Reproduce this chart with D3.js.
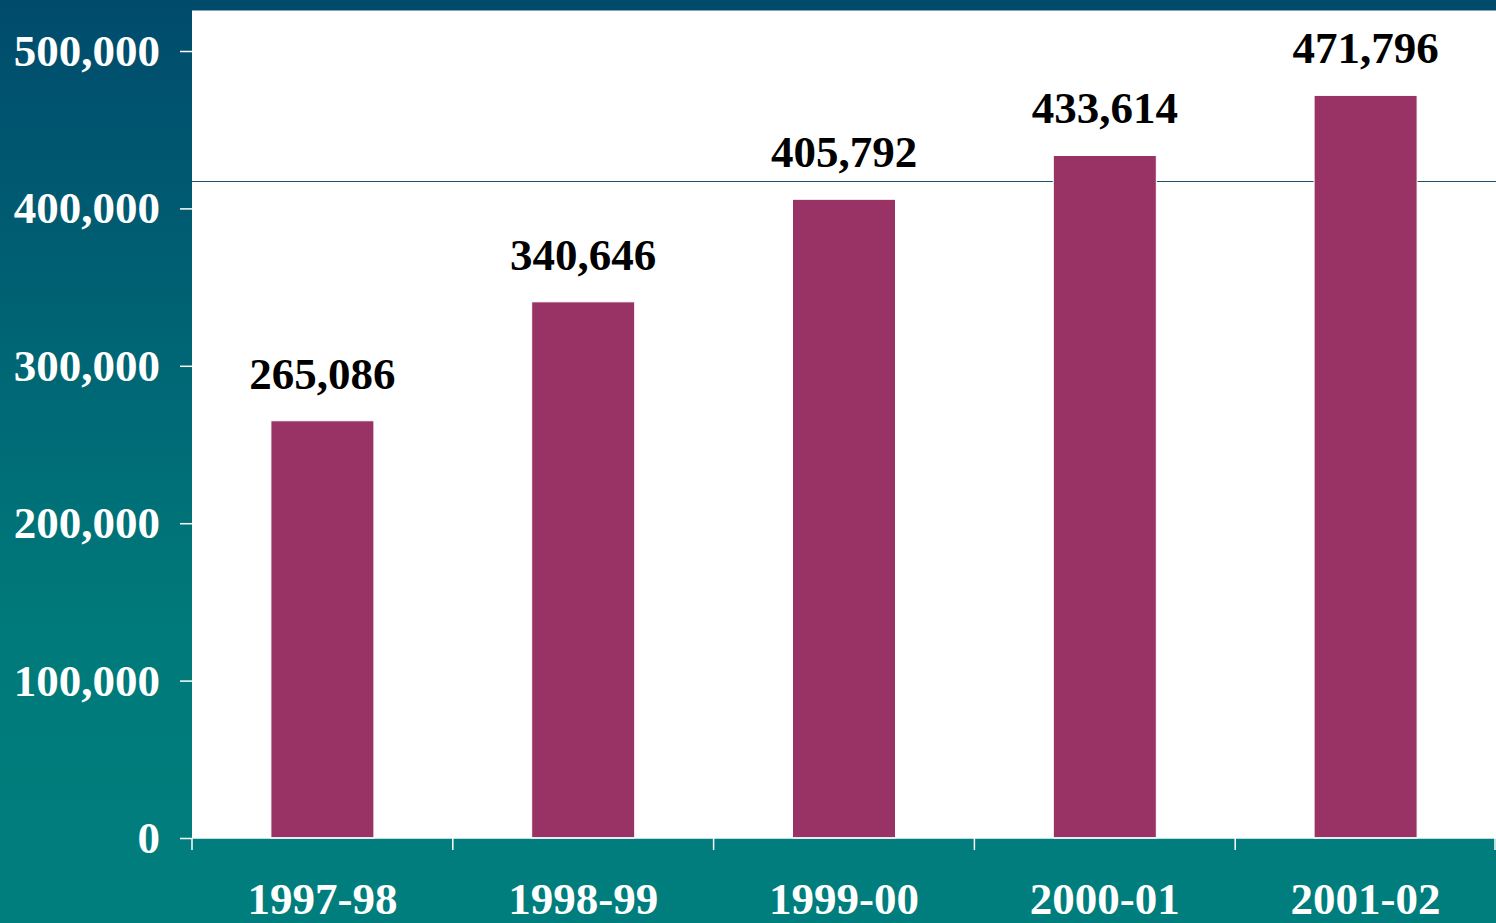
<!DOCTYPE html>
<html>
<head>
<meta charset="utf-8">
<script src="https://cdn.jsdelivr.net/npm/d3@7"></script>
<style>
  html, body { margin: 0; padding: 0; overflow: hidden; }
  svg { display: block; }
</style>
</head>
<body>
<svg id="chart"></svg>
<script>
const years = ["1997-98", "1998-99", "1999-00", "2000-01", "2001-02"];
const counts = [265086, 340646, 405792, 433614, 471796];
const yTicks = [0, 100000, 200000, 300000, 400000, 500000];
const refLine = [417400];

const width = 1496;
const height = 923;
const margin = { top: 10, right: 0, bottom: 85, left: 192 };
const font = "'Liberation Serif', 'Times New Roman', serif";

const svg = d3.select("#chart")
  .attr("width", width)
  .attr("height", height);

// background gradient
const defs = svg.append("defs");
const bg = defs.append("linearGradient")
  .attr("id", "bg")
  .attr("x1", "0%").attr("y1", "0%")
  .attr("x2", "0%").attr("y2", "100%");
bg.append("stop").attr("offset", "0%").attr("stop-color", "#004b6c");
bg.append("stop").attr("offset", "45%").attr("stop-color", "#006a76");
bg.append("stop").attr("offset", "68%").attr("stop-color", "#007a7a");
bg.append("stop").attr("offset", "100%").attr("stop-color", "#007e7d");

svg.append("rect")
  .attr("width", width)
  .attr("height", height)
  .attr("fill", "url(#bg)");

const x = d3.scaleBand()
  .domain(years)
  .range([margin.left, width - margin.right])
  .paddingInner(0.605)
  .paddingOuter(0.3025);

const y = d3.scaleLinear()
  .domain([0, 500000])
  .range([height - margin.bottom, 51]);

// plot area
svg.append("rect")
  .attr("x", margin.left)
  .attr("y", margin.top)
  .attr("width", width - margin.left - margin.right)
  .attr("height", y(0) - margin.top)
  .attr("fill", "#fff");

svg.append("line")
  .attr("x1", margin.left).attr("x2", width)
  .attr("y1", margin.top + 0.5).attr("y2", margin.top + 0.5)
  .attr("stroke", "#7fa7b8")
  .attr("stroke-width", 1);

// reference line
svg.selectAll(".ref")
  .data(refLine)
  .join("line")
  .attr("class", "ref")
  .attr("x1", margin.left).attr("x2", width)
  .attr("y1", d => Math.round(y(d)) + 0.5)
  .attr("y2", d => Math.round(y(d)) + 0.5)
  .attr("stroke", "#1b5266")
  .attr("stroke-width", 1);

// bars
svg.selectAll(".bar")
  .data(counts)
  .join("rect")
  .attr("class", "bar")
  .attr("x", (d, i) => x(years[i]))
  .attr("y", d => y(d))
  .attr("width", x.bandwidth())
  .attr("height", d => y(0) - y(d))
  .attr("fill", "#993366")
  .attr("stroke", "#fff")
  .attr("stroke-width", 1);

// value labels
svg.selectAll(".val")
  .data(counts)
  .join("text")
  .attr("class", "val")
  .attr("x", (d, i) => x(years[i]) + x.bandwidth() / 2)
  .attr("y", d => y(d) - 32)
  .attr("text-anchor", "middle")
  .attr("font-family", font)
  .attr("font-weight", "bold")
  .attr("font-size", "45px")
  .attr("fill", "#000")
  .text(d => d3.format(",")(d));

// y axis
const yAxis = svg.append("g")
  .attr("transform", `translate(${margin.left},0)`)
  .call(d3.axisLeft(y).tickValues(yTicks).tickFormat(d3.format(",")).tickSize(12).tickPadding(20));
yAxis.select(".domain").remove();
yAxis.selectAll("line").attr("stroke", "#fff").attr("stroke-width", 1.5);
yAxis.selectAll("text")
  .attr("fill", "#fff")
  .attr("font-family", font)
  .attr("font-weight", "bold")
  .attr("font-size", "45px");

// x axis
const xEdges = d3.range(years.length + 1).map(i => margin.left + i * x.step() - (i === years.length ? 1 : 0));
const xAxisG = svg.append("g");
xAxisG.append("line")
  .attr("x1", margin.left).attr("x2", width)
  .attr("y1", y(0)).attr("y2", y(0))
  .attr("stroke", "#fff").attr("stroke-width", 1.5);
xAxisG.selectAll(".xt")
  .data(xEdges)
  .join("line")
  .attr("class", "xt")
  .attr("x1", d => d).attr("x2", d => d)
  .attr("y1", y(0)).attr("y2", y(0) + 12)
  .attr("stroke", "#fff").attr("stroke-width", 1.5);
xAxisG.selectAll(".xl")
  .data(years)
  .join("text")
  .attr("class", "xl")
  .attr("x", d => x(d) + x.bandwidth() / 2)
  .attr("y", 914)
  .attr("text-anchor", "middle")
  .attr("font-family", font)
  .attr("font-weight", "bold")
  .attr("font-size", "45px")
  .attr("fill", "#fff")
  .text(d => d);
</script>
</body>
</html>
